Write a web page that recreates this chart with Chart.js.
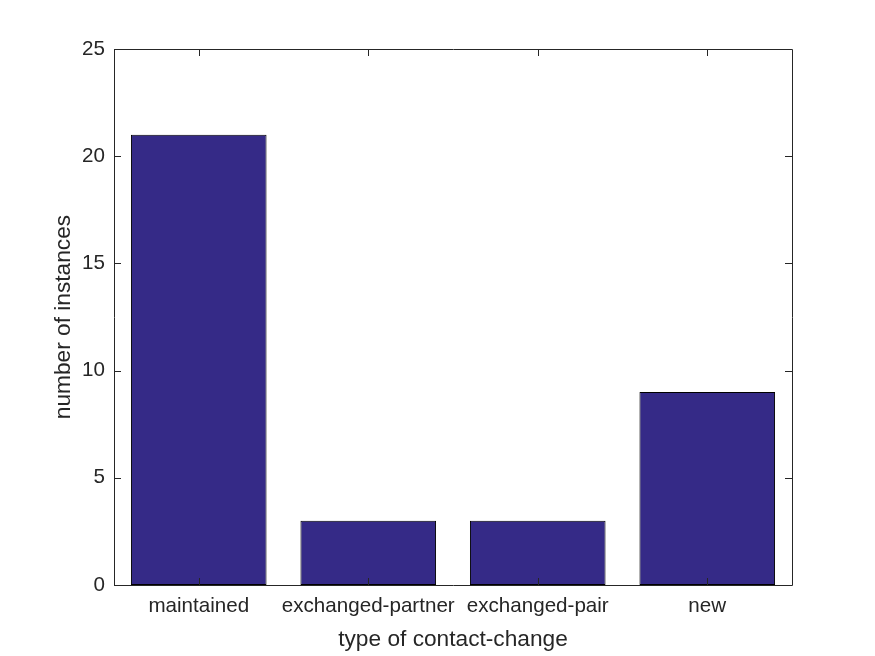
<!DOCTYPE html>
<html>
<head>
<meta charset="utf-8">
<script src="https://cdn.jsdelivr.net/npm/chart.js@4/dist/chart.umd.min.js"></script>
<style>
  html, body { margin: 0; padding: 0; background: #fff; }
  #wrap { width: 875px; height: 656px; position: relative; }
</style>
</head>
<body>
<div id="wrap"><canvas id="c" width="875" height="656"></canvas></div>
<script>
const categories = ["maintained", "exchanged-partner", "exchanged-pair", "new"];
const counts = [21, 3, 3, 9];
const yTicks = [0, 5, 10, 15, 20, 25];
const xTitle = "type of contact-change";
const yTitle = "number of instances";

const FONT = "Arial, 'Liberation Sans', Helvetica, sans-serif";
const TXT = "#262626";

const boxTicks = {
  id: "boxTicks",
  afterDatasetsDraw(chart) {
    const { ctx, chartArea: a, scales } = chart;
    const L = 7;
    ctx.save();
    ctx.strokeStyle = TXT;
    ctx.lineWidth = 1;
    ctx.beginPath();
    ctx.rect(Math.round(a.left) + 0.5, Math.round(a.top) + 0.5, Math.round(a.right - a.left), Math.round(a.bottom - a.top));
    scales.y.ticks.forEach((t, i) => {
      const y = Math.round(scales.y.getPixelForTick(i)) + 0.5;
      ctx.moveTo(a.left, y); ctx.lineTo(a.left + L, y);
      ctx.moveTo(a.right, y); ctx.lineTo(a.right - L, y);
    });
    scales.x.ticks.forEach((t, i) => {
      const x = Math.round(scales.x.getPixelForTick(i)) + 0.5;
      ctx.moveTo(x, a.bottom); ctx.lineTo(x, a.bottom - L);
      ctx.moveTo(x, a.top); ctx.lineTo(x, a.top + L);
    });
    ctx.stroke();
    ctx.restore();
  }
};

new Chart(document.getElementById("c"), {
  type: "bar",
  data: {
    labels: categories,
    datasets: [{
      data: counts,
      backgroundColor: "#352a87",
      borderColor: "#000000",
      borderWidth: 1,
      borderSkipped: false,
      barPercentage: 0.8,
      categoryPercentage: 1.0
    }]
  },
  options: {
    responsive: false,
    animation: false,
    devicePixelRatio: 1,
    layout: { padding: { left: 0, top: 49, right: 83, bottom: 0 } },
    plugins: { legend: { display: false }, tooltip: { enabled: false } },
    scales: {
      x: {
        grid: { display: false, drawTicks: false },
        border: { display: false },
        ticks: { color: TXT, font: { family: FONT, size: 20.6 }, padding: 9, maxRotation: 0, autoSkip: false },
        title: { display: true, text: xTitle, color: TXT, font: { family: FONT, size: 22.7 }, padding: { top: 0, bottom: 3 } },
        afterFit(s) { s.height = 71; }
      },
      y: {
        min: 0, max: 25,
        afterBuildTicks(s) { s.ticks = yTicks.map(v => ({ value: v })); },
        grid: { display: false, drawTicks: false },
        border: { display: false },
        ticks: { color: TXT, font: { family: FONT, size: 20.6 }, padding: 9 },
        title: { display: true, text: yTitle, color: TXT, font: { family: FONT, size: 22.7 }, padding: { top: 50, bottom: 0 } },
        afterFit(s) { s.width = 114; }
      }
    }
  },
  plugins: [boxTicks]
});
</script>
</body>
</html>
